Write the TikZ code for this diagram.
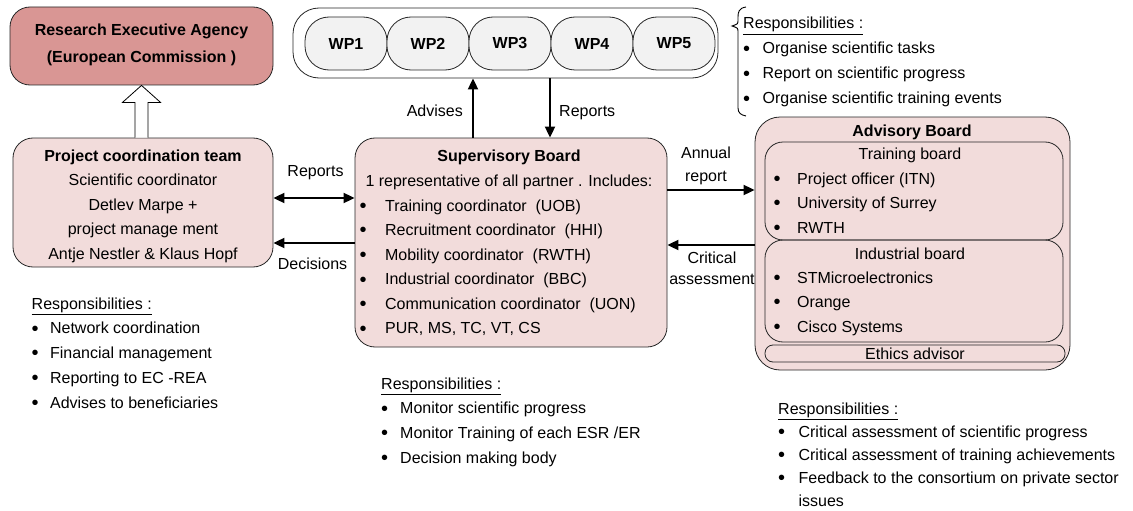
\documentclass[tikz,border=0pt]{standalone}
\usepackage{fontspec}
\setmainfont{Liberation Sans}
\usetikzlibrary{calc,arrows.meta}
\definecolor{reafill}{RGB}{217,150,148}
\definecolor{pinkfill}{RGB}{242,220,219}
\definecolor{wpfill}{RGB}{242,242,242}
\newcommand{\fs}[1]{\fontsize{16}{#1}\selectfont}
\newcommand{\bu}{\raisebox{-1.3pt}{\fontsize{20}{20}\selectfont •}}
\newcommand{\ctab}[1]{\begin{tabular}[t]{@{}c@{}}#1\end{tabular}}
\newcommand{\btab}[2]{\begin{tabular}[t]{@{}l@{\hspace{#1pt}}l@{}}#2\end{tabular}}
\newcommand{\resp}{\multicolumn{2}{@{}l@{}}{\underline{Responsibilities :}}}
\begin{document}
\begin{tikzpicture}[x=1pt,y=-1pt,font=\fs{24.5},
  bx/.style={draw=black!85,line width=0.8pt,inner sep=0pt,rounded corners=20pt},
  arr/.style={line width=1.8pt,-{Triangle[length=11pt,width=10pt]}},
  darr/.style={line width=1.8pt,{Triangle[length=11pt,width=10pt]}-{Triangle[length=11pt,width=10pt]}},
  lbl/.style={inner sep=0pt,anchor=base},
  lst/.style={inner sep=0pt,anchor=base west}]
\useasboundingbox (0,0) rectangle (1133,511);

% boxes
\node[bx,fill=reafill,minimum width=263pt,minimum height=78pt] (rea) at (141.5,46) {};
\node[bx,fill=pinkfill,minimum width=260pt,minimum height=129pt] (pct) at (143,202.5) {};
\node[bx,rounded corners=26pt,fill=white,minimum width=425pt,minimum height=70pt] (wp) at (505.5,43) {};
\foreach \i in {1,...,5}{
  \node[bx,rounded corners=24pt,fill=wpfill,minimum width=82pt,minimum height=53pt,font=\fs{20}\bfseries] (wp\i) at ({346+82*(\i-1)},43.5) {WP\i};
}
\node[bx,fill=pinkfill,minimum width=312pt,minimum height=209pt] (sb) at (511,242.5) {};
\node[bx,rounded corners=25pt,fill=pinkfill,minimum width=315pt,minimum height=253pt] (ab) at (912.5,243.5) {};
\node[bx,rounded corners=18pt,minimum width=298pt,minimum height=98pt] (tb) at (914,191) {};
\node[bx,rounded corners=18pt,minimum width=298pt,minimum height=102pt] (ib) at (914,291) {};
\node[bx,rounded corners=8pt,minimum width=300pt,minimum height=17pt] (eb) at (915,353.5) {};

% texts in boxes
\node[inner sep=0pt,font=\fs{27}\bfseries,align=center] (reat) at (141.5,44.5) {Research Executive Agency\\(European Commission )};
\node[lbl] (pctt) at (143,161) {\ctab{\textbf{Project coordination team}\\Scientific coordinator\\Detlev Marpe +\\project manage ment\\Antje Nestler \& Klaus Hopf}};
\node[lbl,font=\fs{24.5}\bfseries] (sbt) at (509,161) {Supervisory Board};
\node[lbl] (sbi) at (509,186) {1 representative of all partner . Includes:};
\node[lst,font=\fs{24.6}] (sbl) at (359.5,211) {\btab{18.4}{%
  \bu & Training coordinator\ \ (UOB)\\
  \bu & Recruitment coordinator\ \ (HHI)\\
  \bu & Mobility coordinator\ \ (RWTH)\\
  \bu & Industrial coordinator\ \ (BBC)\\
  \bu & Communication coordinator\ \ (UON)\\
  \bu & PUR, MS, TC, VT, CS}};
\node[lbl,font=\fs{24.5}\bfseries] (abt) at (912,136) {Advisory Board};
\node[lbl] (tbt) at (910,159) {Training board};
\node[lst] (tbl) at (773.5,184) {\btab{16.4}{%
  \bu & Project officer (ITN)\\
  \bu & University of Surrey\\
  \bu & RWTH}};
\node[lbl] (ibt) at (910,259) {Industrial board};
\node[lst] (ibl) at (773.5,283) {\btab{16.4}{%
  \bu & STMicroelectronics\\
  \bu & Orange\\
  \bu & Cisco Systems}};
\node[lbl] (ebt) at (915,359) {Ethics advisor};

% hollow arrow
\coordinate (hb) at (rea.south |- pct.north);
\draw[line width=0.8pt,fill=white] ($(hb)+(-6.5,0)$) -- ($(rea.south)+(-6.5,17)$) -- ($(rea.south)+(-19,17)$) -- (rea.south) -- ($(rea.south)+(19,17)$) -- ($(rea.south)+(6.5,17)$) -- ($(hb)+(6.5,0)$);

% connectors
\coordinate (advx) at (473,0);
\coordinate (repx) at (550,0);
\coordinate (r1) at (0,198);
\coordinate (d1) at (0,243);
\coordinate (a1) at (0,190);
\coordinate (c1) at (0,245);
\draw[arr] (sb.north -| advx) -- (wp.south -| advx);
\draw[arr] (wp.south -| repx) -- (sb.north -| repx);
\draw[darr] (pct.east |- r1) -- (sb.west |- r1);
\draw[arr] (sb.west |- d1) -- (pct.east |- d1);
\draw[arr] (sb.east |- a1) -- (ab.west |- a1);
\draw[arr] (ab.west |- c1) -- (sb.east |- c1);

% connector labels
\node[inner sep=0pt,anchor=base east] (advl) at (463,117) {Advises};
\node[inner sep=0pt,anchor=base west] (repl) at (559,117) {Reports};
\node[lbl] (repl2) at (315.5,176) {Reports};
\node[lbl] (decl) at (312.5,269) {Decisions};
\node[lbl,font=\fs{23}] (annl) at (706,158) {\ctab{Annual\\report}};
\node[lbl,font=\fs{21}] (crit) at (712,263) {\ctab{Critical\\assessment}};

% brace
\draw[line width=0.9pt] (746,7) .. controls (739,8) and (738,12) .. (738,17) -- (738,20) .. controls (738,24) .. (732,26) .. controls (738,28) .. (738,32) -- (738,108) .. controls (738,113) and (741,115) .. (746,116);

% responsibilities
\node[lst,font=\fs{25}] (wpr) at (743,29) {\btab{12.4}{\resp\\
  \bu & Organise scientific tasks\\
  \bu & Report on scientific progress\\
  \bu & Organise scientific training events}};
\node[lst,font=\fs{24.75}] (pctr) at (31.5,309) {\btab{11.4}{\resp\\
  \bu & Network coordination\\
  \bu & Financial management\\
  \bu & Reporting to EC -REA\\
  \bu & Advises to beneficiaries}};
\node[lst,font=\fs{24.7}] (sbr) at (381,389) {\btab{12}{\resp\\
  \bu & Monitor scientific progress\\
  \bu & Monitor Training of each ESR /ER\\
  \bu & Decision making body}};
\node[lst,font=\fs{23}] (abr) at (778,414) {\btab{13.4}{\resp\\
  \bu & Critical assessment of scientific progress\\
  \bu & Critical assessment of training achievements\\
  \bu & Feedback to the consortium on private sector\\
    & issues}};
\end{tikzpicture}
\end{document}
